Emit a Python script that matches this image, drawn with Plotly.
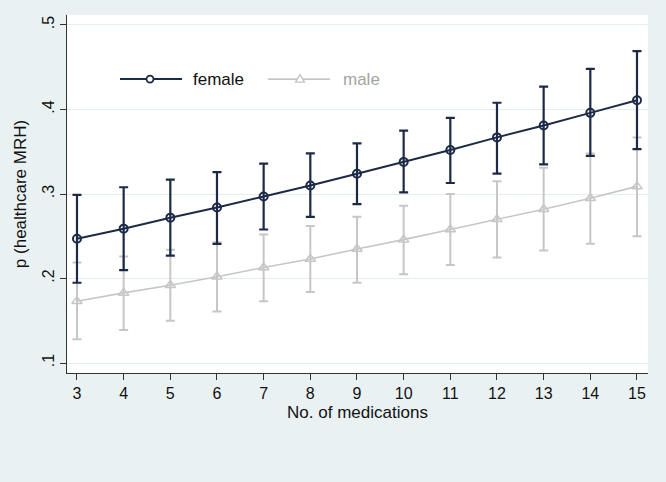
import plotly.graph_objects as go

medications = [3, 4, 5, 6, 7, 8, 9, 10, 11, 12, 13, 14, 15]

female_p = [0.247, 0.259, 0.272, 0.284, 0.297, 0.310, 0.324, 0.338, 0.352, 0.367, 0.381, 0.396, 0.411]
female_lo = [0.195, 0.210, 0.227, 0.241, 0.258, 0.273, 0.288, 0.302, 0.313, 0.324, 0.335, 0.345, 0.353]
female_hi = [0.299, 0.308, 0.317, 0.326, 0.336, 0.348, 0.360, 0.375, 0.390, 0.408, 0.427, 0.448, 0.469]

male_p = [0.173, 0.183, 0.192, 0.202, 0.213, 0.223, 0.235, 0.246, 0.258, 0.270, 0.282, 0.295, 0.309]
male_lo = [0.128, 0.139, 0.150, 0.161, 0.173, 0.184, 0.195, 0.205, 0.216, 0.225, 0.233, 0.241, 0.250]
male_hi = [0.219, 0.226, 0.234, 0.243, 0.252, 0.262, 0.273, 0.286, 0.300, 0.315, 0.331, 0.348, 0.367]

y_ticks = [0.1, 0.2, 0.3, 0.4, 0.5]
y_tick_labels = [".1", ".2", ".3", ".4", ".5"]

series_names = ["female", "male"]

NAVY = "#1c2a48"
GRAY = "#c6c6c6"
GRAY_TEXT = "#a4a4a4"
BG = "#e9f1f3"

fig = go.Figure()

fig.add_trace(go.Scatter(
    x=medications, y=male_p,
    mode="lines+markers",
    name=series_names[1],
    line=dict(color=GRAY, width=1.6),
    marker=dict(symbol="triangle-up-open", size=9, color=GRAY, line=dict(width=1.5)),
    error_y=dict(type="data", symmetric=False,
                 array=[h - p for h, p in zip(male_hi, male_p)],
                 arrayminus=[p - l for l, p in zip(male_lo, male_p)],
                 color=GRAY, thickness=2, width=4.5),
    showlegend=False,
))

fig.add_trace(go.Scatter(
    x=medications, y=female_p,
    mode="lines+markers",
    name=series_names[0],
    line=dict(color=NAVY, width=2),
    marker=dict(symbol="circle-open", size=8, color=NAVY, line=dict(width=2)),
    error_y=dict(type="data", symmetric=False,
                 array=[h - p for h, p in zip(female_hi, female_p)],
                 arrayminus=[p - l for l, p in zip(female_lo, female_p)],
                 color=NAVY, thickness=2.2, width=4.5),
    showlegend=False,
))

# Legend drawn as layout decoration (long key lines as in the original)
LEG_Y = 0.821
shapes = [
    dict(type="line", xref="paper", yref="paper", x0=0.0912, x1=0.198, y0=LEG_Y, y1=LEG_Y,
         line=dict(color=NAVY, width=2)),
    dict(type="circle", xref="paper", yref="paper", xsizemode="pixel", ysizemode="pixel",
         xanchor=0.1429, yanchor=LEG_Y, x0=-3.5, x1=3.5, y0=-3.5, y1=3.5,
         line=dict(color=NAVY, width=1.8), fillcolor="white"),
    dict(type="line", xref="paper", yref="paper", x0=0.346, x1=0.4527, y0=LEG_Y, y1=LEG_Y,
         line=dict(color=GRAY, width=1.6)),
    dict(type="path", xref="paper", yref="paper", xsizemode="pixel", ysizemode="pixel",
         xanchor=0.401, yanchor=LEG_Y, path="M -4.5 -3 L 4.5 -3 L 0 4.5 Z",
         line=dict(color=GRAY, width=1.4), fillcolor="white"),
]
annotations = [
    dict(xref="paper", yref="paper", x=0.214, y=LEG_Y, xanchor="left", yanchor="middle",
         text=series_names[0], showarrow=False, font=dict(size=17, color="#111111")),
    dict(xref="paper", yref="paper", x=0.472, y=LEG_Y, xanchor="left", yanchor="middle",
         text=series_names[1], showarrow=False, font=dict(size=17, color=GRAY_TEXT)),
]

fig.update_layout(
    width=666, height=482,
    paper_bgcolor=BG,
    plot_bgcolor="white",
    margin=dict(l=67, r=18, t=15, b=109),
    font=dict(family="Liberation Sans, Arial, sans-serif", size=16, color="#111111"),
    showlegend=False,
    shapes=shapes,
    annotations=annotations,
)

fig.update_xaxes(
    range=[2.786, 15.236],
    tickmode="array", tickvals=medications,
    ticks="outside", ticklen=6, tickcolor="#333333",
    showline=True, linecolor="#333333", linewidth=1.2,
    showgrid=False, zeroline=False,
    title=dict(text="No. of medications", font=dict(size=17), standoff=4),
    tickfont=dict(size=16),
)

fig.update_yaxes(
    range=[0.0882, 0.5118],
    tickmode="array", tickvals=y_ticks, ticktext=y_tick_labels,
    tickangle=-90,
    ticks="outside", ticklen=6, tickcolor="#333333",
    showline=True, linecolor="#333333", linewidth=1.2,
    showgrid=True, gridcolor="#e4eeef", gridwidth=1,
    zeroline=False,
    title=dict(text="p (healthcare MRH)", font=dict(size=17), standoff=8),
    tickfont=dict(size=16),
)

fig.write_html("out.html", config={"displayModeBar": False},
               post_script="document.body.style.margin='0';document.body.style.padding='0';")
